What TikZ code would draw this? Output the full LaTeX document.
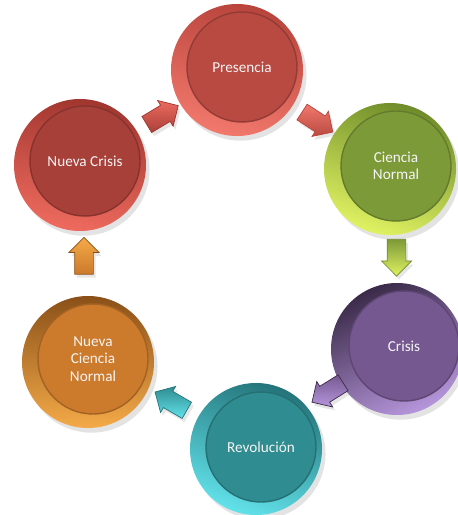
\documentclass[tikz,border=0pt]{standalone}
\usepackage{fontspec}
\setmainfont{Carlito}
\usetikzlibrary{shapes.arrows,shadows,calc}

\definecolor{presface}{HTML}{B84A42}
\definecolor{preslite}{HTML}{F2786C}
\definecolor{presdark}{HTML}{B8443C}
\definecolor{ncrface}{HTML}{A8403A}
\definecolor{ncrlite}{HTML}{EE6A5E}
\definecolor{ncrdark}{HTML}{A0362F}
\definecolor{cnface}{HTML}{7D9A38}
\definecolor{cnlite}{HTML}{E0F262}
\definecolor{cndark}{HTML}{6E8C2A}
\definecolor{crface}{HTML}{765890}
\definecolor{crlite}{HTML}{B696DC}
\definecolor{crdark}{HTML}{3A2A48}
\definecolor{revface}{HTML}{2F8C90}
\definecolor{revlite}{HTML}{62E2EA}
\definecolor{revdark}{HTML}{24747A}
\definecolor{ncnface}{HTML}{CC7A2C}
\definecolor{ncnlite}{HTML}{F4AA48}
\definecolor{ncndark}{HTML}{8A5018}

\begin{document}
\begin{tikzpicture}[x=0.03cm, y=-0.03cm,
  rim/.style={circle, minimum size=3.96cm, inner sep=0pt,
    drop shadow={opacity=0.22, shadow xshift=3pt, shadow yshift=-4pt}},
  face/.style={circle, minimum size=3.3cm, inner sep=0pt, text=white!92!gray,
    font=\fontsize{13}{15}\selectfont, align=center, line width=1.2pt},
  cyc/.style={single arrow, single arrow head extend=0.17cm, minimum height=1.1cm,
    inner xsep=0pt, inner ysep=0.27cm, line width=0.6pt,
    drop shadow={opacity=0.2, shadow xshift=2pt, shadow yshift=-3pt}}
]
\useasboundingbox (0,0) rectangle (458,515);

% outer rims
\node[rim, top color=presdark, bottom color=preslite, shading angle=-15] (pre) at (237,70) {};
\node[rim, top color=cndark, bottom color=cnlite, shading angle=-20] (cn) at (390,169) {};
\node[rim, top color=crdark, bottom color=crlite, shading angle=25] (cr) at (397,349) {};
\node[rim, top color=revdark, bottom color=revlite, shading angle=-20] (rev) at (256,449) {};
\node[rim, top color=ncndark, bottom color=ncnlite, shading angle=0] (ncn) at (88,362) {};
\node[rim, top color=ncrdark, bottom color=ncrlite, shading angle=-10] (ncr) at (80,165) {};

% faces
\node[face, fill=presface, draw=presface!80!black] (pre-f) at ($(pre)+(5,-3)$) {Presencia};
\node[face, fill=cnface, draw=cnface!80!black] (cn-f) at ($(cn)+(6,-3)$) {Ciencia\\Normal};
\node[face, fill=crface, draw=crface!80!black] (cr-f) at ($(cr)+(7,-3)$) {Crisis};
\node[face, fill=revface, draw=revface!80!black] (rev-f) at ($(rev)+(5,-2)$) {Revolución};
\node[face, fill=ncnface, draw=ncnface!80!black] (ncn-f) at ($(ncn)+(5,-3)$) {Nueva\\Ciencia\\Normal};
\node[face, fill=ncrface, draw=ncrface!80!black] (ncr-f) at ($(ncr)+(5,-4)$) {Nueva Crisis};

% arrows between the stages
\node[cyc, rotate=31, top color=ncrlite, bottom color=ncrface, draw=ncrdark] (a1) at ($(ncr)!0.5!(pre)$) {};
\node[cyc, rotate=-33, top color=preslite, bottom color=presface, draw=presdark] (a2) at ($(pre)!0.5!(cn)$) {};
\node[cyc, rotate=-90, top color=cnface, bottom color=cnlite, draw=cndark] (a3) at ($(cn)!0.5!(cr)+(3,-6)$) {};
\node[cyc, rotate=212, top color=crface, bottom color=crlite, draw=crdark] (a4) at ($(cr)!0.5!(rev)+(5,-9)$) {};
\node[cyc, rotate=150, top color=revface, bottom color=revlite, draw=revdark] (a5) at ($(rev)!0.5!(ncn)+(3,-2)$) {};
\node[cyc, rotate=90, top color=ncnlite, bottom color=ncnface, draw=ncndark] (a6) at ($(ncn)!0.5!(ncr)+(0,-3)$) {};
\end{tikzpicture}
\end{document}
